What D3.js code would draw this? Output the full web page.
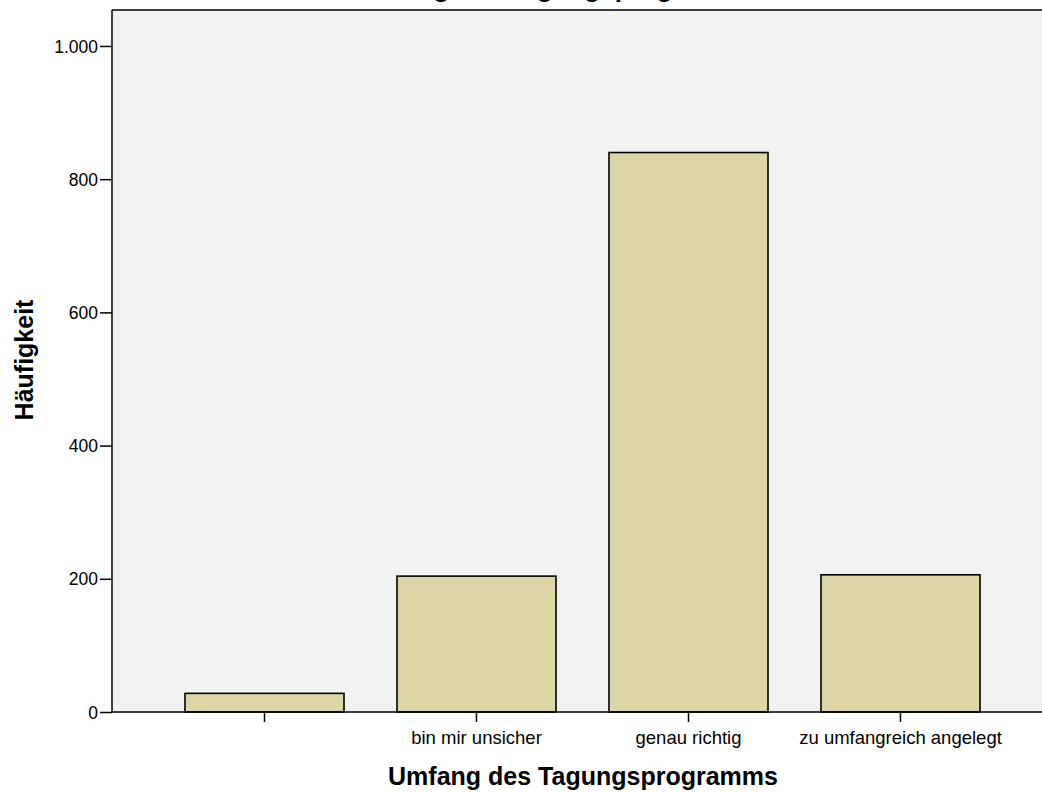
<!DOCTYPE html>
<html>
<head>
<meta charset="utf-8">
<script src="https://cdn.jsdelivr.net/npm/d3@7"></script>
<style>
  body { margin: 0; background: #fff; }
  text { font-family: "Liberation Sans", Arial, sans-serif; fill: #000; }
</style>
</head>
<body>
<div id="chart"></div>
<script>
// data
let categories = ["", "bin mir unsicher", "genau richtig", "zu umfangreich angelegt"]
let counts = [28, 204, 840, 206]
let yTicks = [0, 200, 400, 600, 800, 1000]

function drawChart(){
    let width = 1042
    let height = 792
    let plot = {left: 112, top: 10, right: 1042, bottom: 712}
    let svg = d3.select("#chart")
        .append("svg")
            .attr("width", width)
            .attr("height", height)

    let yScale = d3.scaleLinear()
        .domain([0, 1054])
        .range([plot.bottom, plot.top])
    let xScale = d3.scaleBand()
        .domain(categories)
        .range([158.5, 1006.5])
        .paddingInner(0.25)
        .paddingOuter(0.125)

    // plot background
    svg.append("rect")
        .attr("x", plot.left)
        .attr("y", plot.top)
        .attr("width", plot.right - plot.left)
        .attr("height", plot.bottom - plot.top)
        .attr("fill", "#f2f2f2")

    // title, mostly cut off by the top edge (as in the original)
    svg.append("text")
        .attr("x", 555)
        .attr("y", -3)
        .attr("text-anchor", "middle")
        .attr("font-size", "26px")
        .attr("font-weight", "bold")
        .text("Umfang des Tagungsprogramms")

    svg.selectAll(".bar")
        .data(counts)
        .enter()
        .append("rect")
            .attr("class", "bar")
            .attr("x", (d, i) => xScale(categories[i]))
            .attr("y", d => yScale(d))
            .attr("width", xScale.bandwidth())
            .attr("height", d => yScale(0) - yScale(d))
            .attr("fill", "#dcd5a8")
            .attr("stroke", "#000")
            .attr("stroke-width", 1.6)

    // top frame line
    svg.append("line")
        .attr("x1", plot.left).attr("x2", plot.right)
        .attr("y1", plot.top).attr("y2", plot.top)
        .attr("stroke", "#000").attr("stroke-width", 1.5)

    let yAxis = svg.append("g")
        .attr("transform", `translate(${plot.left},0)`)
        .call(d3.axisLeft(yScale)
            .tickValues(yTicks)
            .tickSize(12)
            .tickPadding(2)
            .tickSizeOuter(0)
            .tickFormat(d => d3.format(",")(d).replace(",", ".")))
    yAxis.select(".domain")
        .attr("d", `M0,${plot.top}V${plot.bottom}`)
        .attr("stroke-width", 1.5)
    yAxis.selectAll(".tick line").attr("stroke-width", 1.5)
    yAxis.selectAll(".tick text")
        .attr("font-size", "17.5px")
        .attr("font-family", "Liberation Sans, Arial, sans-serif")
        .attr("dy", "0.35em")

    let xAxis = svg.append("g")
        .attr("transform", `translate(0,${plot.bottom})`)
        .call(d3.axisBottom(xScale)
            .tickSize(10)
            .tickPadding(9)
            .tickSizeOuter(0))
    xAxis.select(".domain")
        .attr("d", `M${plot.left},0H${plot.right}`)
        .attr("stroke-width", 1.5)
    xAxis.selectAll(".tick line").attr("stroke-width", 1.5)
    xAxis.selectAll(".tick text")
        .attr("font-size", "18.5px")
        .attr("font-family", "Liberation Sans, Arial, sans-serif")

    svg.append("text")
        .attr("x", 583)
        .attr("y", 785)
        .attr("text-anchor", "middle")
        .attr("font-size", "25px")
        .attr("font-weight", "bold")
        .text("Umfang des Tagungsprogramms")

    svg.append("text")
        .attr("transform", "translate(33,360) rotate(-90)")
        .attr("text-anchor", "middle")
        .attr("font-size", "25px")
        .attr("font-weight", "bold")
        .text("Häufigkeit")
}
drawChart()
</script>
</body>
</html>
